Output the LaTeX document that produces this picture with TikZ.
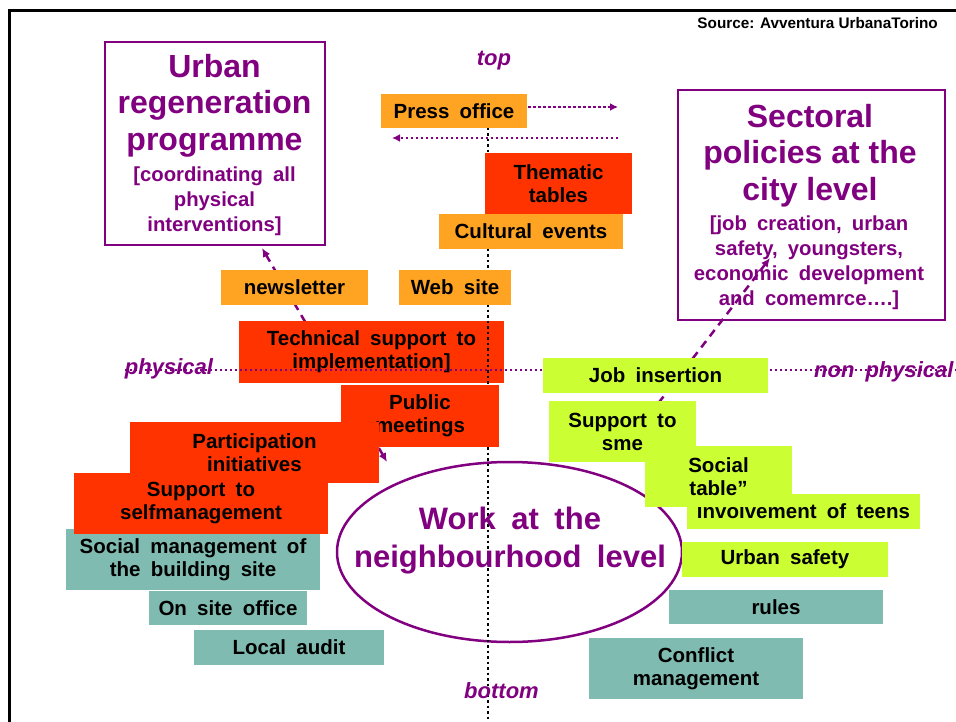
\documentclass[tikz,border=0pt]{standalone}
\usepackage{fontspec}
\setmainfont{Liberation Sans}[WordSpace=1.8]
\newfontfamily\plainsans{Liberation Sans}
\usetikzlibrary{shapes.geometric,arrows.meta}
\definecolor{orng}{HTML}{FFA322}
\definecolor{hotred}{HTML}{FF3300}
\definecolor{limeg}{HTML}{CCFF33}
\definecolor{tealbox}{HTML}{7FBBB0}
\definecolor{purp}{HTML}{800080}
\tikzset{
  box/.style={rectangle, inner sep=0pt, outer sep=0pt, align=center,
    font=\bfseries\fontsize{20.5}{23}\selectfont, text=black},
  obox/.style={box, fill=orng},
  rbox/.style={box, fill=hotred},
  gbox/.style={box, fill=limeg},
  tbox/.style={box, fill=tealbox},
  frame/.style={draw=purp, line width=2pt, rectangle, inner sep=0pt},
  titletxt/.style={text=purp, align=center, inner sep=0pt,
    font=\plainsans\bfseries\fontsize{32}{36.5}\selectfont},
  subtxt/.style={text=purp, align=center, inner sep=0pt,
    font=\bfseries\fontsize{20.3}{25}\selectfont},
  worklabel/.style={text=purp, align=center, inner sep=0pt,
    font=\bfseries\fontsize{31}{38}\selectfont},
  axislabel/.style={text=purp, inner sep=0pt,
    font=\bfseries\itshape\fontsize{22}{26}\selectfont},
  linkarrow/.style={draw=purp, line width=2.5pt, dash pattern=on 8pt off 6pt,
    -{Latex[length=9pt,width=8pt]}},
  pressarrow/.style={draw=purp, line width=2.5pt, dash pattern=on 2.5pt off 2.5pt,
    -{Latex[length=8pt,width=8pt]}},
}
\begin{document}
\begin{tikzpicture}[x=1pt,y=-1pt]
\useasboundingbox (0,0) rectangle (956,722);

% outer frame
\coordinate (fbl) at (9.5,722);
\coordinate (ftl) at (9.5,10.5);
\coordinate (ftr) at (956,10.5);
\draw[line width=3pt] (fbl) -- (ftl) -- (ftr);

\node[font=\plainsans\bfseries\fontsize{15.3}{17}\selectfont, anchor=base east, inner sep=0pt]
  (src) at (938,29) {Source: Avventura UrbanaTorino};

% city-level frames
\node[frame, minimum width=220, minimum height=203] (urban) at (214.5,144) {};
\node[titletxt, anchor=north] (urbant) at (214.5,54) {Urban\\regeneration\\programme};
\node[subtxt, anchor=north] (urbans) at (214.5,167) {[coordinating all\\physical\\interventions]};

\node[frame, minimum width=267, minimum height=230] (sect) at (811.5,205) {};
\node[titletxt, anchor=north] (sectt) at (810,104) {Sectoral\\policies at the\\city level};
\node[subtxt, anchor=north] (sects) at (809,216) {[job creation, urban\\safety, youngsters,\\economic development\\and comemrce….]};

% links from the neighbourhood level to the city level
\coordinate (la1) at (387,462);
\coordinate (la2) at (262,248);
\draw[linkarrow, {Latex[length=9pt,width=8pt]}-{Latex[length=9pt,width=8pt]}] (la1) -- (la2);
\coordinate (ra1) at (650,414);
\coordinate (ra2) at (770,258);
\draw[linkarrow] (ra1) -- (ra2);

% neighbourhood ellipse
\node[draw=purp, line width=2.5pt, ellipse, minimum width=345, minimum height=180, inner sep=0pt]
  (work) at (509.5,552) {};

% technical support lies beneath the axes
\node[rbox, minimum width=265, minimum height=62] (tech) at (371.5,352) {Technical support to\\implementation]};

% axes
\coordinate (vtop) at (488,95);
\coordinate (vbot) at (488,722);
\draw[line width=2.5pt, dash pattern=on 2.5pt off 3pt] (vtop) -- (vbot);
\coordinate (hl) at (125,370);
\coordinate (hr) at (956,370);
\draw[purp, line width=2pt, dash pattern=on 2pt off 3pt] (hl) -- (hr);

\node[axislabel, anchor=base] (top) at (494,66) {top};
\node[axislabel, anchor=base] (bottom) at (501.5,698) {bottom};
\node[axislabel, anchor=base] (phys) at (169,374) {physical};
\node[axislabel, anchor=base west] (nonphys) at (814,377) {non physical};

% communication tools
\node[obox, minimum width=146, minimum height=34] (press) at (454,111) {Press office};
\node[rbox, minimum width=147, minimum height=61] (thematic) at (558.5,183.5) {Thematic\\tables};
\node[obox, minimum width=184, minimum height=35] (cultural) at (531,231.5) {Cultural events};
\node[obox, minimum width=112, minimum height=35] (web) at (455,287.5) {Web site};
\node[obox, minimum width=147, minimum height=35] (news) at (294.5,287.5) {newsletter};

\coordinate (po1) at (528,107);
\coordinate (po2) at (618,107);
\draw[pressarrow] (po1) -- (po2);
\coordinate (pi1) at (618,138);
\coordinate (pi2) at (392,138);
\draw[pressarrow] (pi1) -- (pi2);

% physical side
\node[rbox, minimum width=158, minimum height=62] (public) at (420,416) {Public\\meetings};
\node[rbox, minimum width=249, minimum height=61] (partic) at (254.5,452.5) {Participation\\initiatives};
\node[tbox, minimum width=254, minimum height=61] (socmgmt) at (193,559.5) {Social management of\\the building site};
\node[rbox, minimum width=254, minimum height=61] (selfm) at (201,503.5) {Support to\\selfmanagement};
\node[tbox, minimum width=158, minimum height=34] (onsite) at (228,608) {On site office};
\node[tbox, minimum width=190, minimum height=35] (audit) at (289,647.5) {Local audit};

% non-physical side
\node[gbox, minimum width=225, minimum height=35] (job) at (655.5,375.5) {Job insertion};
\node[gbox, minimum width=147, minimum height=61] (sme) at (622.5,431.5) {Support to\\sme};
\node[gbox, minimum width=233, minimum height=35] (teens) at (803.5,511.5) {Involvement of teens};
\node[gbox, minimum width=147, minimum height=61] (soctable) at (718.5,476.5) {Social\\table”};
\node[gbox, minimum width=206, minimum height=35] (safety) at (785,559.5) {Urban safety};
\node[tbox, minimum width=214, minimum height=34] (rules) at (776,607) {rules};
\node[tbox, minimum width=214, minimum height=61] (conflict) at (696,668.5) {Conflict\\management};

% centre label
\node[worklabel, anchor=north] (worktxt) at (510,507) {Work at the\\neighbourhood level};
\end{tikzpicture}
\end{document}
